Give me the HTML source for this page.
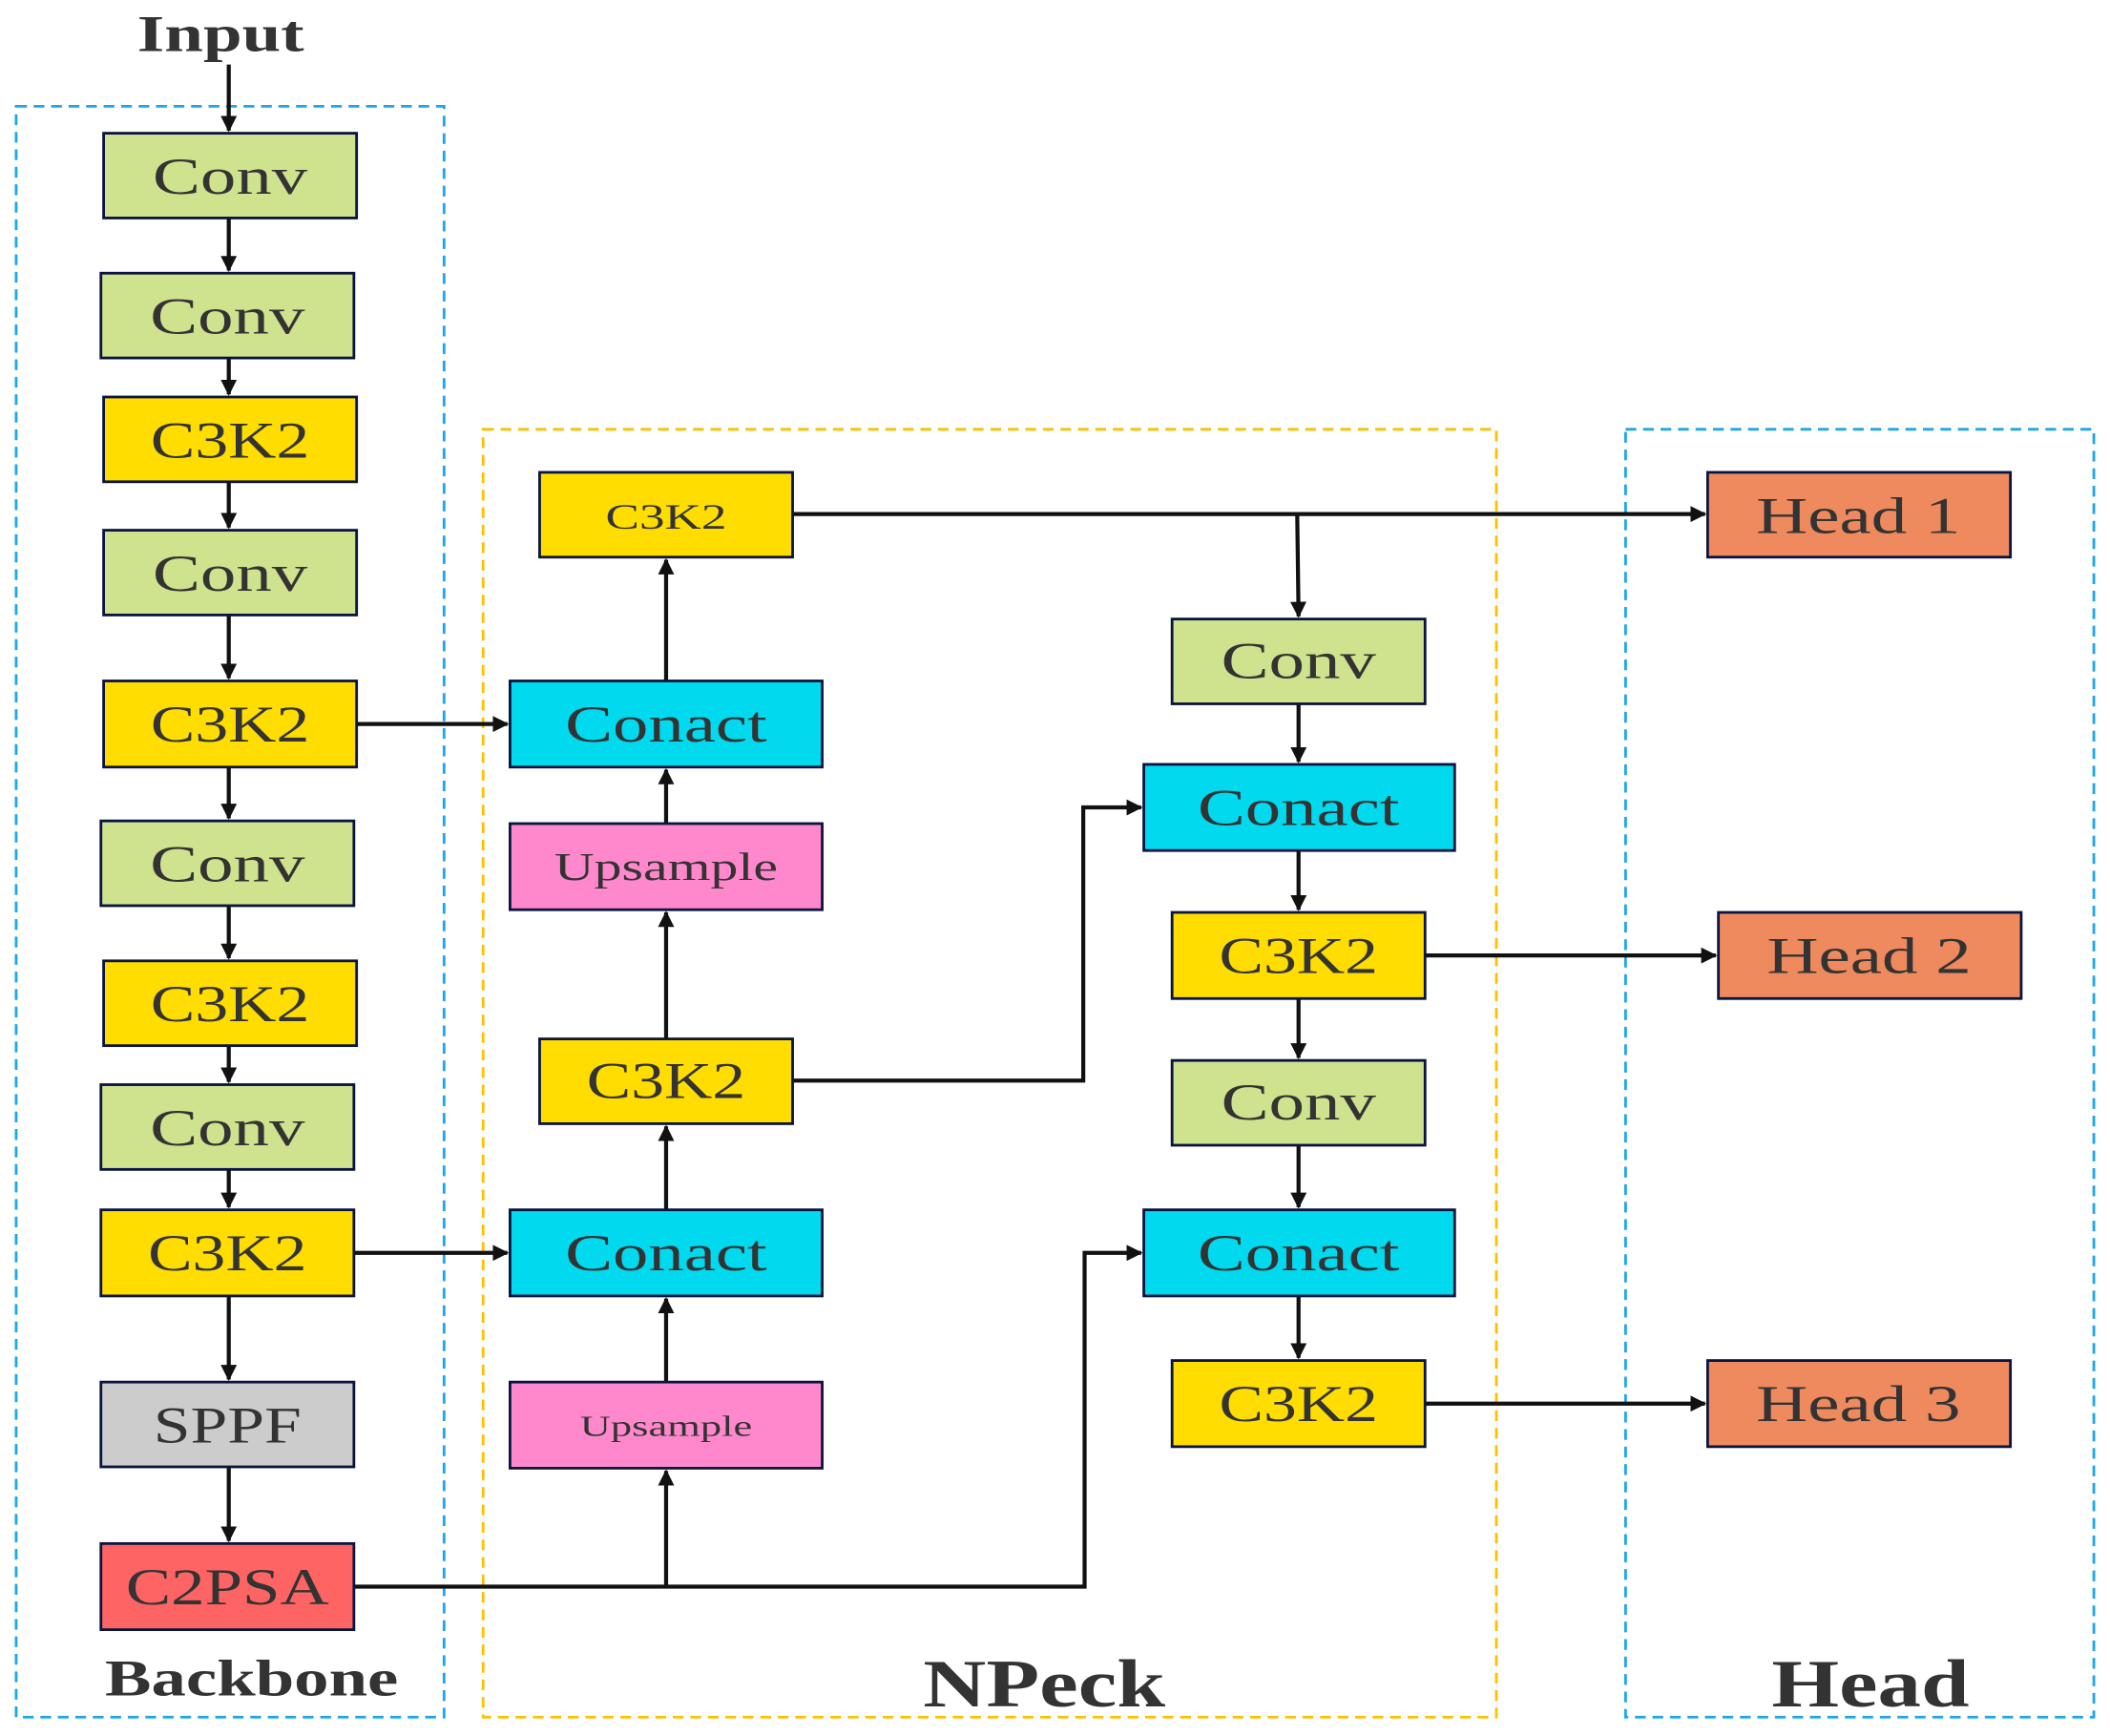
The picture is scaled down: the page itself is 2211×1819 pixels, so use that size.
<!DOCTYPE html>
<html><head><meta charset="utf-8"><style>html,body{margin:0;padding:0;background:#fff}svg{display:block}</style></head>
<body>
<svg width="2211" height="1819" viewBox="0 0 1568 1290" preserveAspectRatio="none" xmlns="http://www.w3.org/2000/svg" font-family="Liberation Serif, serif" fill="#333">
<defs>
<marker id="a" viewBox="0 0 10 10" refX="9" refY="5" markerWidth="4" markerHeight="4" orient="auto" markerUnits="strokeWidth"><path d="M0,0 L10,5 L0,10 z" fill="#111"/></marker>
</defs>
<!-- groups -->
<rect x="12" y="79" width="318" height="1197" fill="none" stroke="#1AA7EC" stroke-width="2" stroke-dasharray="8,5"/>
<rect x="359" y="319" width="753" height="957" fill="none" stroke="#FFC000" stroke-width="2" stroke-dasharray="8,5"/>
<rect x="1208" y="319" width="348" height="957" fill="none" stroke="#1AA7EC" stroke-width="2" stroke-dasharray="8,5"/>
<!-- connectors -->
<g stroke="#111" stroke-width="3" fill="none" marker-end="url(#a)">
<line x1="170" y1="48" x2="170" y2="97"/>
<line x1="170" y1="162" x2="170" y2="201"/>
<line x1="170" y1="266" x2="170" y2="293"/>
<line x1="170" y1="358" x2="170" y2="392"/>
<line x1="170" y1="457" x2="170" y2="504"/>
<line x1="170" y1="570" x2="170" y2="608"/>
<line x1="170" y1="673" x2="170" y2="712"/>
<line x1="170" y1="777" x2="170" y2="804"/>
<line x1="170" y1="869" x2="170" y2="897"/>
<line x1="170" y1="963" x2="170" y2="1025"/>
<line x1="170" y1="1090" x2="170" y2="1145"/>
<line x1="265" y1="538" x2="377" y2="538"/>
<line x1="263" y1="931" x2="377" y2="931"/>
<polyline points="263,1179 806,1179 806,931 848,931"/>
<line x1="495" y1="1179" x2="495" y2="1093"/>
<line x1="495" y1="1027" x2="495" y2="965"/>
<line x1="495" y1="899" x2="495" y2="837"/>
<line x1="495" y1="772" x2="495" y2="678"/>
<line x1="495" y1="612" x2="495" y2="572"/>
<line x1="495" y1="506" x2="495" y2="416"/>
<polyline points="589,803 805,803 805,600 848,600"/>
<line x1="589" y1="382" x2="1267" y2="382"/>
<line x1="964" y1="382" x2="965" y2="458"/>
<line x1="965" y1="523" x2="965" y2="566"/>
<line x1="965" y1="632" x2="965" y2="676"/>
<line x1="965" y1="742" x2="965" y2="786"/>
<line x1="965" y1="851" x2="965" y2="897"/>
<line x1="965" y1="963" x2="965" y2="1009"/>
<line x1="1059" y1="710" x2="1275" y2="710"/>
<line x1="1059" y1="1043" x2="1267" y2="1043"/>
</g>
<!-- boxes -->
<g stroke="#0a1440" stroke-width="2">
<rect x="77" y="99" width="188" height="63" fill="#CFE28E"/>
<rect x="75" y="203" width="188" height="63" fill="#CFE28E"/>
<rect x="77" y="295" width="188" height="63" fill="#FFDD00"/>
<rect x="77" y="394" width="188" height="63" fill="#CFE28E"/>
<rect x="77" y="506" width="188" height="64" fill="#FFDD00"/>
<rect x="75" y="610" width="188" height="63" fill="#CFE28E"/>
<rect x="77" y="714" width="188" height="63" fill="#FFDD00"/>
<rect x="75" y="806" width="188" height="63" fill="#CFE28E"/>
<rect x="75" y="899" width="188" height="64" fill="#FFDD00"/>
<rect x="75" y="1027" width="188" height="63" fill="#CCCCCC"/>
<rect x="75" y="1147" width="188" height="64" fill="#FF6464"/>
<rect x="401" y="351" width="188" height="63" fill="#FFDD00"/>
<rect x="379" y="506" width="232" height="64" fill="#00D9EE"/>
<rect x="379" y="612" width="232" height="64" fill="#FF88CC"/>
<rect x="401" y="772" width="188" height="63" fill="#FFDD00"/>
<rect x="379" y="899" width="232" height="64" fill="#00D9EE"/>
<rect x="379" y="1027" width="232" height="64" fill="#FF88CC"/>
<rect x="871" y="460" width="188" height="63" fill="#CFE28E"/>
<rect x="850" y="568" width="231" height="64" fill="#00D9EE"/>
<rect x="871" y="678" width="188" height="64" fill="#FFDD00"/>
<rect x="871" y="788" width="188" height="63" fill="#CFE28E"/>
<rect x="850" y="899" width="231" height="64" fill="#00D9EE"/>
<rect x="871" y="1011" width="188" height="64" fill="#FFDD00"/>
<rect x="1269" y="351" width="225" height="63" fill="#EE8A5E"/>
<rect x="1277" y="678" width="225" height="64" fill="#EE8A5E"/>
<rect x="1269" y="1011" width="225" height="64" fill="#EE8A5E"/>
</g>
<!-- labels -->
<g font-size="38" text-anchor="middle" lengthAdjust="spacingAndGlyphs">
<text x="171" y="144" textLength="115" lengthAdjust="spacingAndGlyphs">Conv</text>
<text x="169" y="248" textLength="115" lengthAdjust="spacingAndGlyphs">Conv</text>
<text x="171" y="340" textLength="118" lengthAdjust="spacingAndGlyphs">C3K2</text>
<text x="171" y="439" textLength="115" lengthAdjust="spacingAndGlyphs">Conv</text>
<text x="171" y="551" textLength="118" lengthAdjust="spacingAndGlyphs">C3K2</text>
<text x="169" y="655" textLength="115" lengthAdjust="spacingAndGlyphs">Conv</text>
<text x="171" y="759" textLength="118" lengthAdjust="spacingAndGlyphs">C3K2</text>
<text x="169" y="851" textLength="115" lengthAdjust="spacingAndGlyphs">Conv</text>
<text x="169" y="944" textLength="118" lengthAdjust="spacingAndGlyphs">C3K2</text>
<text x="169" y="1072" textLength="110" lengthAdjust="spacingAndGlyphs">SPPF</text>
<text x="169" y="1192" textLength="151" lengthAdjust="spacingAndGlyphs">C2PSA</text>
<text x="495" y="393" font-size="26" textLength="90" lengthAdjust="spacingAndGlyphs">C3K2</text>
<text x="495" y="551" textLength="150" lengthAdjust="spacingAndGlyphs">Conact</text>
<text x="495" y="654" font-size="29" textLength="166" lengthAdjust="spacingAndGlyphs">Upsample</text>
<text x="495" y="816" textLength="118" lengthAdjust="spacingAndGlyphs">C3K2</text>
<text x="495" y="944" textLength="150" lengthAdjust="spacingAndGlyphs">Conact</text>
<text x="495" y="1067" font-size="22" textLength="128" lengthAdjust="spacingAndGlyphs">Upsample</text>
<text x="965" y="504" textLength="115" lengthAdjust="spacingAndGlyphs">Conv</text>
<text x="965" y="613" textLength="150" lengthAdjust="spacingAndGlyphs">Conact</text>
<text x="965" y="723" textLength="118" lengthAdjust="spacingAndGlyphs">C3K2</text>
<text x="965" y="832" textLength="115" lengthAdjust="spacingAndGlyphs">Conv</text>
<text x="965" y="944" textLength="150" lengthAdjust="spacingAndGlyphs">Conact</text>
<text x="965" y="1056" textLength="118" lengthAdjust="spacingAndGlyphs">C3K2</text>
<text x="1381" y="396" textLength="152" lengthAdjust="spacingAndGlyphs">Head 1</text>
<text x="1389" y="723" textLength="152" lengthAdjust="spacingAndGlyphs">Head 2</text>
<text x="1381" y="1056" textLength="152" lengthAdjust="spacingAndGlyphs">Head 3</text>
</g>
<g font-weight="bold" text-anchor="middle">
<text x="164" y="38" font-size="38" textLength="124" lengthAdjust="spacingAndGlyphs">Input</text>
<text x="187" y="1260" font-size="38" textLength="218" lengthAdjust="spacingAndGlyphs">Backbone</text>
<text x="776" y="1268" font-size="50" textLength="180" lengthAdjust="spacingAndGlyphs">NPeck</text>
<text x="1390" y="1268" font-size="50" textLength="147" lengthAdjust="spacingAndGlyphs">Head</text>
</g>
</svg>
</body></html>
